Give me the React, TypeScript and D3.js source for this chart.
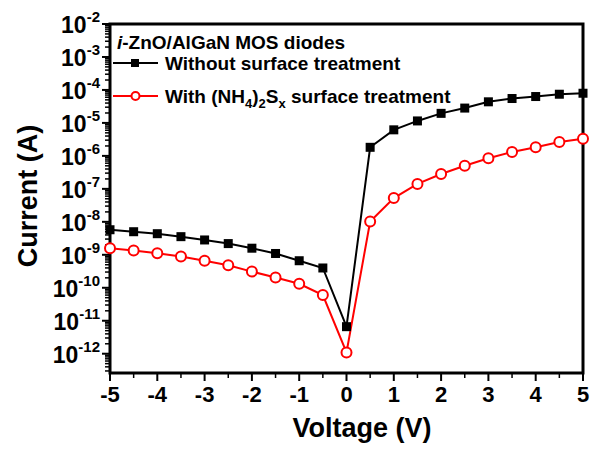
import React from "react";
import * as d3 from "d3";

const voltages = [-5, -4.5, -4, -3.5, -3, -2.5, -2, -1.5, -1, -0.5, 0, 0.5, 1, 1.5, 2, 2.5, 3, 3.5, 4, 4.5, 5];
// log10 of current (A)
const withoutLog = [-8.24, -8.30, -8.36, -8.45, -8.55, -8.66, -8.80, -8.96, -9.18, -9.40, -11.18, -5.74, -5.21, -4.94, -4.71, -4.55, -4.36, -4.26, -4.20, -4.13, -4.10];
const withLog = [-8.80, -8.87, -8.95, -9.05, -9.18, -9.32, -9.51, -9.69, -9.88, -10.22, -11.96, -7.99, -7.28, -6.85, -6.55, -6.30, -6.07, -5.88, -5.74, -5.58, -5.48];
const xTicks = [-5, -4, -3, -2, -1, 0, 1, 2, 3, 4, 5];
const yExps = [-2, -3, -4, -5, -6, -7, -8, -9, -10, -11, -12];

const W = 601, H = 451;
const L = 110, R = 583, T = 24, B = 373;
const FONT = "'Liberation Sans', Arial, sans-serif";

export default function App() {
  const x = d3.scaleLinear().domain([-5, 5]).range([L, R]);
  const y = d3.scaleLog().domain([2.6e-13, 1e-2]).range([B, T]);
  const line = d3.line<[number, number]>().x(d => x(d[0])).y(d => y(d[1]));
  const blackData: [number, number][] = voltages.map((v, i) => [v, Math.pow(10, withoutLog[i])]);
  const redData: [number, number][] = voltages.map((v, i) => [v, Math.pow(10, withLog[i])]);

  const minorY: number[] = [];
  for (let e = -13; e <= -3; e++) {
    for (let m = 2; m <= 9; m++) {
      const val = m * Math.pow(10, e);
      if (val >= 2.6e-13 && val <= 1e-2) minorY.push(val);
    }
  }
  const minorX = d3.range(-4.5, 5, 1);

  return (
    <svg width={W} height={H} style={{ position: "absolute", left: 0, top: 0, background: "#fff" }} fontFamily={FONT}>
      <rect x={0} y={0} width={W} height={H} fill="#fff" />
      {/* y ticks */}
      {yExps.map(e => (
        <line key={"ym" + e} x1={L - 8} x2={L} y1={y(Math.pow(10, e))} y2={y(Math.pow(10, e))} stroke="#000" strokeWidth={2} />
      ))}
      {minorY.map((v, i) => (
        <line key={"yn" + i} x1={L - 5} x2={L} y1={y(v)} y2={y(v)} stroke="#000" strokeWidth={1.5} />
      ))}
      {yExps.map(e => (
        <text key={"yl" + e} x={100} y={y(Math.pow(10, e)) + 9} textAnchor="end" fontWeight="bold" fontSize={23} fill="#000">
          10<tspan dy={-11} fontSize={15}>{e}</tspan>
        </text>
      ))}
      {/* x ticks */}
      {xTicks.map(t => (
        <line key={"xm" + t} x1={x(t)} x2={x(t)} y1={B} y2={B + 8} stroke="#000" strokeWidth={2} />
      ))}
      {minorX.map(t => (
        <line key={"xn" + t} x1={x(t)} x2={x(t)} y1={B} y2={B + 5} stroke="#000" strokeWidth={1.5} />
      ))}
      {xTicks.map(t => (
        <text key={"xl" + t} x={x(t)} y={402} textAnchor="middle" fontWeight="bold" fontSize={22} fill="#000">{t}</text>
      ))}
      {/* frame */}
      <rect x={L} y={T} width={R - L} height={B - T} fill="none" stroke="#000" strokeWidth={3} />
      {/* axis titles */}
      <text x={362} y={437} textAnchor="middle" fontWeight="bold" fontSize={27} fill="#000">Voltage (V)</text>
      <text transform={`translate(37,${196}) rotate(-90)`} textAnchor="middle" fontWeight="bold" fontSize={27} fill="#000">Current (A)</text>
      {/* data */}
      <path d={line(blackData) || ""} fill="none" stroke="#000" strokeWidth={2} />
      <path d={line(redData) || ""} fill="none" stroke="#ff0000" strokeWidth={2} />
      {blackData.map((d, i) => (
        <rect key={"b" + i} x={x(d[0]) - 4.5} y={y(d[1]) - 4.5} width={9} height={9} fill="#000" />
      ))}
      {redData.map((d, i) => (
        <circle key={"r" + i} cx={x(d[0])} cy={y(d[1])} r={5} fill="#fff" stroke="#ff0000" strokeWidth={2} />
      ))}
      {/* legend */}
      <text x={117} y={49} fontWeight="bold" fontSize={19} fill="#000">
        <tspan fontStyle="italic">i</tspan>-ZnO/AlGaN MOS diodes
      </text>
      <line x1={113} x2={158} y1={63} y2={63} stroke="#000" strokeWidth={2} />
      <rect x={131} y={59} width={8} height={8} fill="#000" />
      <text x={165} y={70} fontWeight="bold" fontSize={19} fill="#000">Without surface treatment</text>
      <line x1={113} x2={158} y1={96} y2={96} stroke="#ff0000" strokeWidth={2} />
      <circle cx={135.5} cy={96} r={4} fill="#fff" stroke="#ff0000" strokeWidth={2} />
      <text x={165} y={103} fontWeight="bold" fontSize={19} fill="#000">
        With (NH<tspan dy={5} fontSize={13}>4</tspan><tspan dy={-5}>)</tspan><tspan dy={5} fontSize={13}>2</tspan><tspan dy={-5}>S</tspan><tspan dy={5} fontSize={13}>x</tspan><tspan dy={-5}> surface treatment</tspan>
      </text>
    </svg>
  );
}
